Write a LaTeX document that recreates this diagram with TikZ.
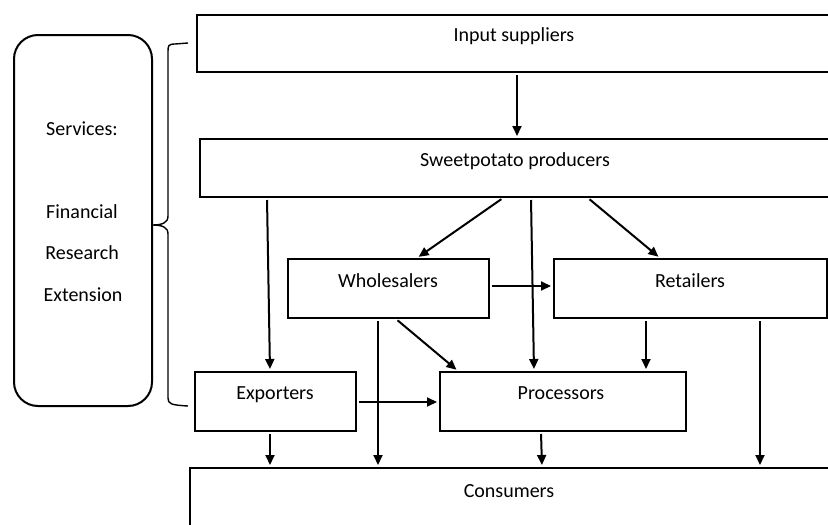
\documentclass[tikz,border=0pt]{standalone}
\usepackage{fontspec}
\setmainfont{Carlito}
\usetikzlibrary{arrows.meta,calc}
\begin{document}
\begin{tikzpicture}[x=1pt,y=-1pt,
  box/.style={draw, line width=2pt, inner sep=0pt, anchor=north west},
  lbl/.style={anchor=base, inner sep=0pt, font=\fontsize{20}{22}\selectfont},
  arr/.style={-{Triangle[length=10pt,width=9pt]}, line width=2pt, shorten <=2pt, shorten >=2pt},
  bracestyle/.style={line width=1.4pt}]
\useasboundingbox (0,0) rectangle (828,525);
\clip (0,0) rectangle (828,525);
% boxes
\node[box, minimum width=640, minimum height=57] (inp) at (196,14) {};
\node[box, minimum width=640, minimum height=58] (prod) at (199,138) {};
\node[box, rounded corners=24pt, minimum width=138, minimum height=371] (serv) at (13,34) {};
\node[box, minimum width=201, minimum height=59] (whole) at (287,258) {};
\node[box, minimum width=273, minimum height=59] (ret) at (553,258) {};
\node[box, minimum width=161, minimum height=59] (exp) at (194,371) {};
\node[box, minimum width=246, minimum height=59] (proc) at (439,371) {};
\node[box, minimum width=650, minimum height=100] (cons) at (189,467) {};
% labels
\node[lbl] (inpT) at (514,41) {Input suppliers};
\node[lbl] (prodT) at (515,166) {Sweetpotato producers};
\node[lbl] (wholeT) at (388,287) {Wholesalers};
\node[lbl] (retT) at (690,287) {Retailers};
\node[lbl] (expT) at (275,399) {Exporters};
\node[lbl] (procT) at (561,399) {Processors};
\node[lbl] (consT) at (509,497) {Consumers};
\node[lbl] (s1) at (82,135) {Services:};
\node[lbl] (s2) at (82,218) {Financial};
\node[lbl] (s3) at (82,259) {Research};
\node[lbl] (s4) at (83,301) {Extension};
% brace
\draw[bracestyle] (188,43) -- (175,44) .. controls (168,44) and (168,46) .. (168,52)
  -- (168,216) .. controls (168,223) and (162,225) .. (152,225)
  .. controls (162,225) and (168,227) .. (168,234)
  -- (168,398) .. controls (168,404) and (171,405) .. (188,406);
% arrows
\draw[arr] (inp.south) -- (inp.south |- prod.north);
\draw[arr] ($(prod.south west)+(68,0)$) -- ($(exp.north west)+(76,0)$);
\draw[arr] ($(prod.south west)+(304,0)$) -- ($(whole.north west)+(130,0)$);
\draw[arr] ($(prod.south west)+(332,0)$) -- ($(proc.north west)+(95,0)$);
\draw[arr] ($(prod.south west)+(389,0)$) -- ($(ret.north west)+(107,0)$);
\draw[arr] ($(whole.north east)+(0,28)$) -- ($(ret.north west)+(0,28)$);
\draw[arr] ($(whole.south west)+(109,0)$) -- ($(proc.north west)+(19,0)$);
\draw[arr] ($(whole.south west)+(91,0)$) -- ($(cons.north west)+(189,0)$);
\draw[arr] ($(ret.south west)+(93,0)$) -- ($(proc.north west)+(207,0)$);
\draw[arr] ($(ret.south west)+(207,0)$) -- ($(cons.north west)+(571,0)$);
\draw[arr] ($(exp.north east)+(0,31)$) -- ($(proc.north west)+(0,31)$);
\draw[arr] ($(exp.south west)+(76,0)$) -- ($(cons.north west)+(81,0)$);
\draw[arr] ($(proc.south west)+(102,0)$) -- ($(cons.north west)+(353,0)$);
\end{tikzpicture}
\end{document}
